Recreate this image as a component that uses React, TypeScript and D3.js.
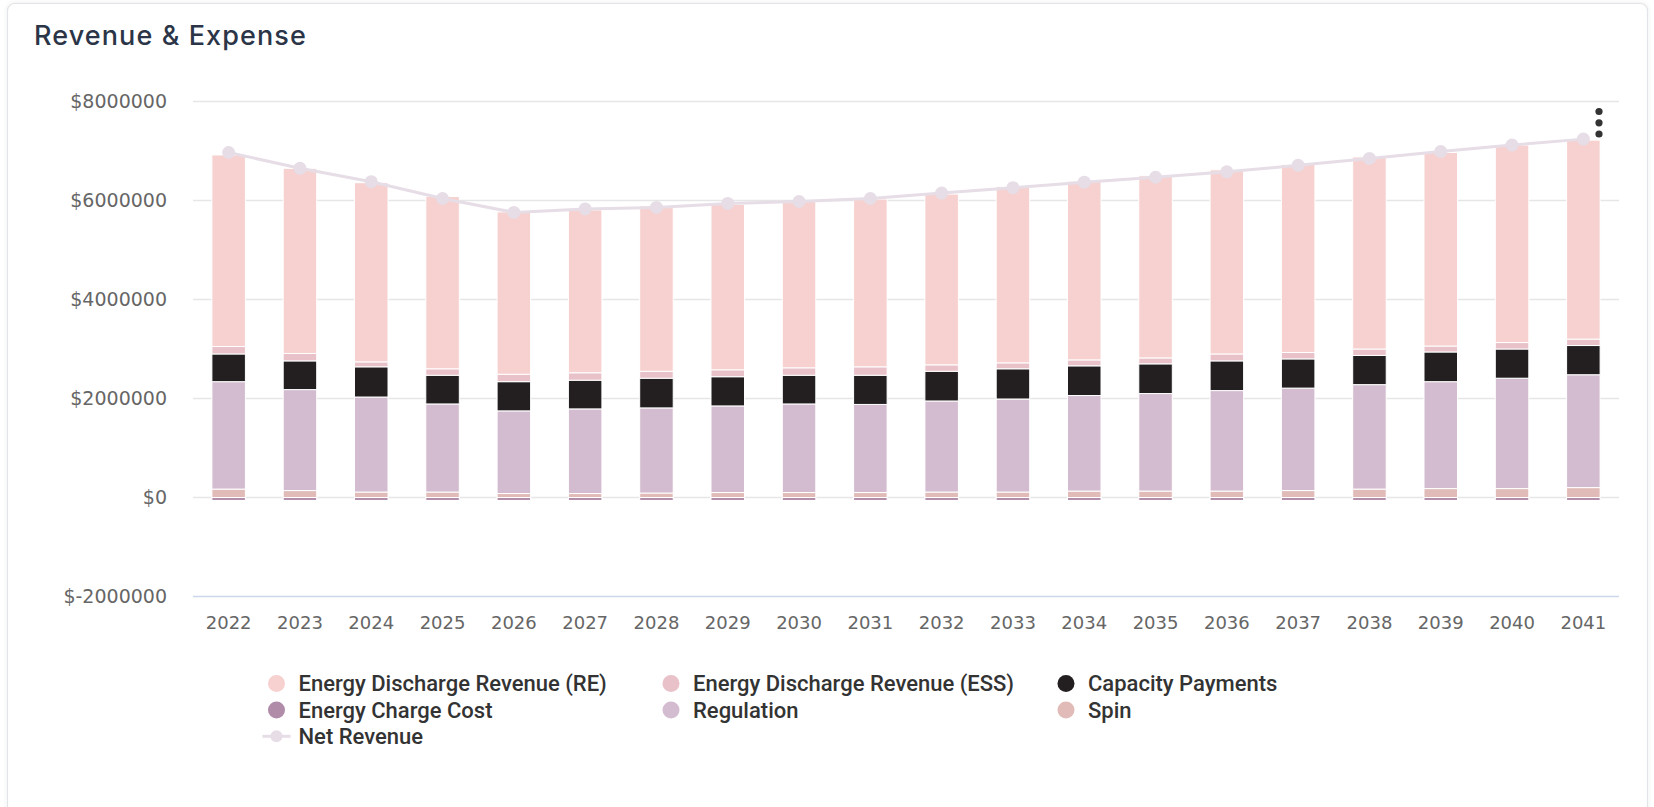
import React from "react";
import * as d3 from "d3";

const years = ["2022","2023","2024","2025","2026","2027","2028","2029","2030","2031","2032","2033","2034","2035","2036","2037","2038","2039","2040","2041"];

const energyDischargeRE = [3870000,3740000,3620000,3480000,3280000,3290000,3340000,3340000,3360000,3390000,3450000,3560000,3610000,3680000,3720000,3800000,3880000,3910000,3990000,4020000];
const energyDischargeESS = [150000,150000,100000,130000,150000,150000,140000,140000,150000,170000,130000,120000,120000,120000,140000,130000,130000,120000,130000,130000];
const capacityPayments = [560000,580000,610000,580000,590000,580000,600000,590000,580000,590000,600000,610000,600000,600000,600000,590000,590000,600000,590000,590000];
const energyChargeCost = [-60000,-60000,-60000,-60000,-60000,-60000,-60000,-60000,-60000,-60000,-60000,-60000,-60000,-60000,-60000,-60000,-60000,-60000,-60000,-60000];
const regulation = [2170000,2040000,1920000,1780000,1670000,1710000,1720000,1750000,1790000,1780000,1840000,1880000,1930000,1970000,2030000,2070000,2110000,2160000,2230000,2280000];
const spin = [170000,140000,110000,110000,80000,80000,90000,100000,100000,100000,110000,110000,130000,130000,130000,140000,170000,180000,180000,200000];
const netRevenue = [6970000,6650000,6380000,6040000,5760000,5830000,5860000,5940000,5980000,6040000,6150000,6260000,6370000,6470000,6580000,6710000,6850000,6990000,7120000,7240000];

const yTicks = [-2000000, 0, 2000000, 4000000, 6000000, 8000000];

const seriesNames = ["Energy Discharge Revenue (RE)","Energy Discharge Revenue (ESS)","Capacity Payments","Energy Charge Cost","Regulation","Spin","Net Revenue"];
const seriesColors = ["#f6d1cf","#e8c1c9","#231f20","#b08ca8","#d3bccf","#e0bbb7","#e6dde6"];

const W = 1654, H = 807;
const plotLeft = 193, plotRight = 1619, plotTop = 101.5, plotBottom = 596.5;
const axisFont = "'DejaVu Sans', sans-serif";

export default function App() {
  const rows = years.map((y, i) => ({
    year: y,
    spin: spin[i],
    regulation: regulation[i],
    capacity: capacityPayments[i],
    ess: energyDischargeESS[i],
    re: energyDischargeRE[i],
    charge: energyChargeCost[i],
  }));
  const keys = ["spin","regulation","capacity","ess","re","charge"];
  const keyColor: Record<string,string> = {
    re: seriesColors[0], ess: seriesColors[1], capacity: seriesColors[2],
    charge: seriesColors[3], regulation: seriesColors[4], spin: seriesColors[5],
  };
  const stacked = d3.stack<any>().keys(keys).offset(d3.stackOffsetDiverging)(rows);

  const x = d3.scaleBand<string>().domain(years).range([plotLeft, plotRight]).padding(0);
  const y = d3.scaleLinear().domain([-2000000, 8000000]).range([plotBottom, plotTop]);
  const barW = x.bandwidth() * 0.47;
  const cx = (yr: string) => (x(yr) as number) + x.bandwidth() / 2;

  const line = d3.line<number>().x((_, i) => cx(years[i])).y((d) => y(d));

  const legendCols = [276.5, 671, 1066];
  const legendRows = [683.5, 710, 736.3];

  return (
    <svg width={W} height={H} style={{ position: "absolute", left: 0, top: 0, background: "#fff" }}>
      <defs>
        <filter id="sh" x="-5%" y="-5%" width="110%" height="110%">
          <feDropShadow dx="0" dy="0" stdDeviation="2" floodColor="#000" floodOpacity="0.08" />
        </filter>
      </defs>
      <rect x={7.5} y={3.5} width={1640} height={860} rx={7} fill="#fff" stroke="#e2e4e8" strokeWidth={1.2} filter="url(#sh)" />
      <text x={34} y={45} fontFamily="Inter, 'Noto Sans', sans-serif" fontWeight={500} fontSize={27} letterSpacing={1.1} fill="#2b3547">Revenue &amp; Expense</text>

      {yTicks.filter((t) => t !== -2000000).map((t) => (
        <line key={t} x1={plotLeft} x2={plotRight} y1={y(t)} y2={y(t)} stroke="#e6e6e6" strokeWidth={1.5} />
      ))}
      <line x1={plotLeft} x2={plotRight} y1={y(-2000000)} y2={y(-2000000)} stroke="#ccd6eb" strokeWidth={1.5} />

      {yTicks.map((t) => (
        <text key={t} x={167} y={y(t)} dy="0.36em" textAnchor="end" fontFamily={axisFont} fontSize={19} fill="#666666">{`$${t}`}</text>
      ))}
      {years.map((yr) => (
        <text key={yr} x={cx(yr)} y={622.5} dy="0.36em" textAnchor="middle" fontFamily={axisFont} fontSize={18} fill="#666666">{yr}</text>
      ))}

      {stacked.map((s) => (
        <g key={s.key} fill={keyColor[s.key]}>
          {s.map((d, i) => {
            const y0 = y(d[0]), y1 = y(d[1]);
            return (
              <rect key={i} x={cx(years[i]) - barW / 2} width={barW} y={Math.min(y0, y1)} height={Math.abs(y0 - y1)} stroke="#ffffff" strokeWidth={1} />
            );
          })}
        </g>
      ))}

      <path d={line(netRevenue) || ""} fill="none" stroke={seriesColors[6]} strokeWidth={3} />
      {netRevenue.map((v, i) => (
        <circle key={i} cx={cx(years[i])} cy={y(v)} r={6.5} fill={seriesColors[6]} />
      ))}

      {seriesNames.map((name, i) => {
        const col = i % 3, row = Math.floor(i / 3);
        const sx = legendCols[col], sy = legendRows[row];
        return (
          <g key={name}>
            {i === 6 ? (
              <g>
                <line x1={sx - 14} x2={sx + 14} y1={sy} y2={sy} stroke={seriesColors[6]} strokeWidth={3} />
                <circle cx={sx} cy={sy} r={6} fill={seriesColors[6]} />
              </g>
            ) : (
              <circle cx={sx} cy={sy} r={8.5} fill={seriesColors[i]} />
            )}
            <text x={sx + 22} y={sy} dy="0.35em" fontFamily="Roboto, sans-serif" fontWeight={500} fontSize={22} fill="#333333">{name}</text>
          </g>
        );
      })}

      {[111.5, 122.8, 134].map((cy) => (
        <circle key={cy} cx={1599} cy={cy} r={3.6} fill="#333" />
      ))}
    </svg>
  );
}
